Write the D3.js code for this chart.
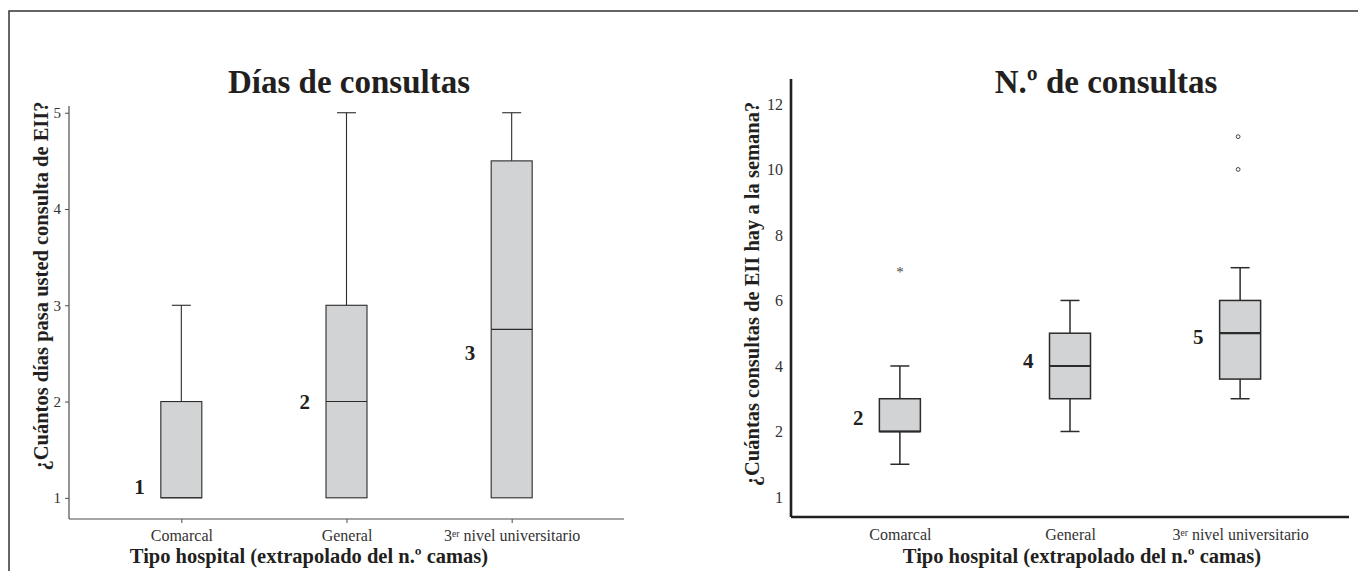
<!DOCTYPE html>
<html>
<head>
<meta charset="utf-8">
<script src="https://cdn.jsdelivr.net/npm/d3@7"></script>
<style>
  body { margin: 0; background: #fff; }
  svg text { font-family: "Liberation Serif", "Times New Roman", serif; fill: #231f20; }
  .axis path, .axis line { stroke: #4d4d4d; }
</style>
</head>
<body>
<div class="chart"></div>
<script>
//Data
const categories = ['Comarcal', 'General', '3er nivel universitario'];

// Días de consultas (left)
const diasMin    = [1, 1, 1];
const diasQ1     = [1, 1, 1];
const diasMedian = [1, 2, 2.75];
const diasQ3     = [2, 3, 4.5];
const diasMax    = [3, 5, 5];
const diasLabels = ['1', '2', '3'];
const diasLabelAt = [1.11, 2, 2.5];
const diasTicks = [1, 2, 3, 4, 5];

// N.º de consultas (right)
const numMin    = [1, 2, 3];
const numQ1     = [2, 3, 3.6];
const numMedian = [2, 4, 5];
const numQ3     = [3, 5, 6];
const numMax    = [4, 6, 7];
const numLabels = ['2', '4', '5'];
const numLabelAt = [2.41, 4.15, 4.89];
const numExtremes = [{cat: 'Comarcal', value: 7}];              // asterisco
const numOutliers = [{cat: '3er nivel universitario', value: 10},
                     {cat: '3er nivel universitario', value: 11}]; // círculos
const numTicks = [0, 2, 4, 6, 8, 10, 12];
const numTickLabels = ['1', '2', '4', '6', '8', '10', '12'];

function boxData(mins, q1s, meds, q3s, maxs){
    return categories.map((c, i) => ({cat: c, min: mins[i], q1: q1s[i], median: meds[i], q3: q3s[i], max: maxs[i]}));
}

const W = 1358, H = 571;
const svg = d3.select('.chart').append('svg')
    .attr('width', W).attr('height', H);

// outer frame (top + left only, like the cropped figure)
svg.append('path')
    .attr('d', `M9,${H} V11 H${W}`)
    .attr('fill', 'none')
    .attr('stroke', '#333')
    .attr('stroke-width', 1.5);

//superscript for "3er"
function fixLabels(sel){
    sel.selectAll('.tick text').each(function(d){
        if (d.startsWith('3er')) {
            const t = d3.select(this).text(null);
            t.append('tspan').text('3');
            t.append('tspan').text('er').attr('dy', '-0.45em').style('font-size', '0.6em');
            t.append('tspan').text(' nivel universitario').attr('dy', '0.27em');
        }
    });
}

function drawPanel(cfg){
    const x = d3.scalePoint().domain(categories).range([cfg.left, cfg.right]).padding(cfg.pad);
    const y = d3.scaleLinear().domain(cfg.yDomain).range([cfg.bottom, cfg.top]);
    const g = svg.append('g');
    const boxW = 41, capW = 19;

    // Title
    g.append('text')
        .attr('x', cfg.titleX).attr('y', 82)
        .attr('text-anchor', 'middle')
        .attr('dominant-baseline', 'central')
        .style('font-size', '33px').style('font-weight', 'bold')
        .text(cfg.title);

    // Axes
    const yAxis = d3.axisLeft(y).tickValues(cfg.ticks).tickSizeOuter(0)
        .tickSize(cfg.yTick).tickPadding(cfg.yPad)
        .tickFormat((d, i) => cfg.tickLabels ? cfg.tickLabels[i] : d);
    const yG = g.append('g').attr('class', 'axis')
        .attr('transform', `translate(${cfg.left},0)`)
        .call(yAxis);
    yG.select('.domain').attr('d', `M0,${cfg.bottom}V${cfg.top}`);
    yG.selectAll('text').style('font-size', cfg.tickFont).style('fill', '#333');

    const xAxis = d3.axisBottom(x).tickSize(cfg.xTick).tickPadding(cfg.xPad).tickSizeOuter(0);
    const xG = g.append('g').attr('class', 'axis')
        .attr('transform', `translate(0,${cfg.bottom})`)
        .call(xAxis);
    xG.select('.domain').attr('d', `M${cfg.left},0H${cfg.right}`);
    xG.selectAll('text').style('font-size', '16px').style('fill', '#333');
    fixLabels(xG);
    g.selectAll('.axis path, .axis line')
        .style('stroke', cfg.axisColor).style('stroke-width', cfg.axisWidth);
    yG.selectAll('.tick line').style('stroke-width', 1);
    xG.selectAll('.tick line').style('stroke-width', 1);

    // Axis titles
    g.append('text')
        .attr('transform', `translate(${cfg.yTitleX},${cfg.yTitleY}) rotate(-90)`)
        .attr('text-anchor', 'middle')
        .attr('dominant-baseline', 'central')
        .style('font-size', '20.5px').style('font-weight', 'bold')
        .text(cfg.yTitle);
    g.append('text')
        .attr('x', cfg.xTitleX).attr('y', 556)
        .attr('text-anchor', 'middle')
        .attr('dominant-baseline', 'central')
        .style('font-size', '20.5px').style('font-weight', 'bold')
        .text('Tipo hospital (extrapolado del n.º camas)');

    // Boxes
    const boxes = g.selectAll('.box').data(cfg.data).enter()
        .append('g').attr('class', 'box');
    const lineStyle = s => s.attr('stroke', '#2b2b2b').attr('stroke-width', cfg.boxStroke);

    boxes.append('line')
        .attr('x1', d => x(d.cat)).attr('x2', d => x(d.cat))
        .attr('y1', d => y(d.max)).attr('y2', d => y(d.min))
        .call(lineStyle);
    boxes.append('line')
        .attr('x1', d => x(d.cat) - capW / 2).attr('x2', d => x(d.cat) + capW / 2)
        .attr('y1', d => y(d.max)).attr('y2', d => y(d.max))
        .call(lineStyle);
    boxes.filter(d => d.min < d.q1).append('line')
        .attr('x1', d => x(d.cat) - capW / 2).attr('x2', d => x(d.cat) + capW / 2)
        .attr('y1', d => y(d.min)).attr('y2', d => y(d.min))
        .call(lineStyle);
    boxes.append('rect')
        .attr('x', d => x(d.cat) - boxW / 2)
        .attr('y', d => y(d.q3))
        .attr('width', boxW)
        .attr('height', d => y(d.q1) - y(d.q3))
        .attr('fill', '#d1d3d4')
        .call(lineStyle);
    boxes.append('line')
        .attr('x1', d => x(d.cat) - boxW / 2).attr('x2', d => x(d.cat) + boxW / 2)
        .attr('y1', d => y(d.median)).attr('y2', d => y(d.median))
        .call(lineStyle)
        .attr('stroke-width', cfg.medianStroke);

    // Value labels beside the boxes
    g.selectAll('.vlabel').data(cfg.labels).enter()
        .append('text')
        .attr('x', (d, i) => x(categories[i]) - boxW / 2 - 16)
        .attr('y', (d, i) => y(cfg.labelAt[i]))
        .attr('text-anchor', 'end')
        .attr('dominant-baseline', 'central')
        .style('font-size', '21px').style('font-weight', 'bold')
        .text(d => d);

    if (cfg.extremes) {
        g.selectAll('.extreme').data(cfg.extremes).enter()
            .append('text')
            .attr('x', d => x(d.cat)).attr('y', d => y(d.value) + 4)
            .attr('text-anchor', 'middle')
            .attr('dominant-baseline', 'central')
            .style('font-size', '15px').style('fill', '#444')
            .text('*');
    }
    if (cfg.outliers) {
        g.selectAll('.outlier').data(cfg.outliers).enter()
            .append('circle')
            .attr('cx', d => x(d.cat) - 2).attr('cy', d => y(d.value))
            .attr('r', 1.9)
            .attr('fill', 'none').attr('stroke', '#444').attr('stroke-width', 1);
    }
}

drawPanel({
    title: 'Días de consultas', titleX: 349,
    left: 69, right: 624, top: 106, bottom: 519, pad: 0.68,
    yDomain: [0.78, 5.07], ticks: diasTicks,
    yTick: 4, yPad: 4, xTick: 4, xPad: 7, tickFont: '15px',
    axisColor: '#4d4d4d', axisWidth: 1.2, boxStroke: 1.1, medianStroke: 1.1,
    yTitle: '¿Cuántos días pasa usted consulta de EII?', yTitleX: 41, yTitleY: 286,
    xTitleX: 309,
    data: boxData(diasMin, diasQ1, diasMedian, diasQ3, diasMax),
    labels: diasLabels, labelAt: diasLabelAt
});

drawPanel({
    title: 'N.º de consultas', titleX: 1106,
    left: 791, right: 1349, top: 79, bottom: 517, pad: 0.64,
    yDomain: [-0.61, 12.76], ticks: numTicks, tickLabels: numTickLabels,
    yTick: 0, yPad: 8, xTick: 0, xPad: 12, tickFont: '16px',
    axisColor: '#231f20', axisWidth: 2.6, boxStroke: 1.5, medianStroke: 2.2,
    yTitle: '¿Cuántas consultas de EII hay a la semana?', yTitleX: 752, yTitleY: 294,
    xTitleX: 1082,
    data: boxData(numMin, numQ1, numMedian, numQ3, numMax),
    labels: numLabels, labelAt: numLabelAt,
    extremes: numExtremes, outliers: numOutliers
});
</script>
</body>
</html>
